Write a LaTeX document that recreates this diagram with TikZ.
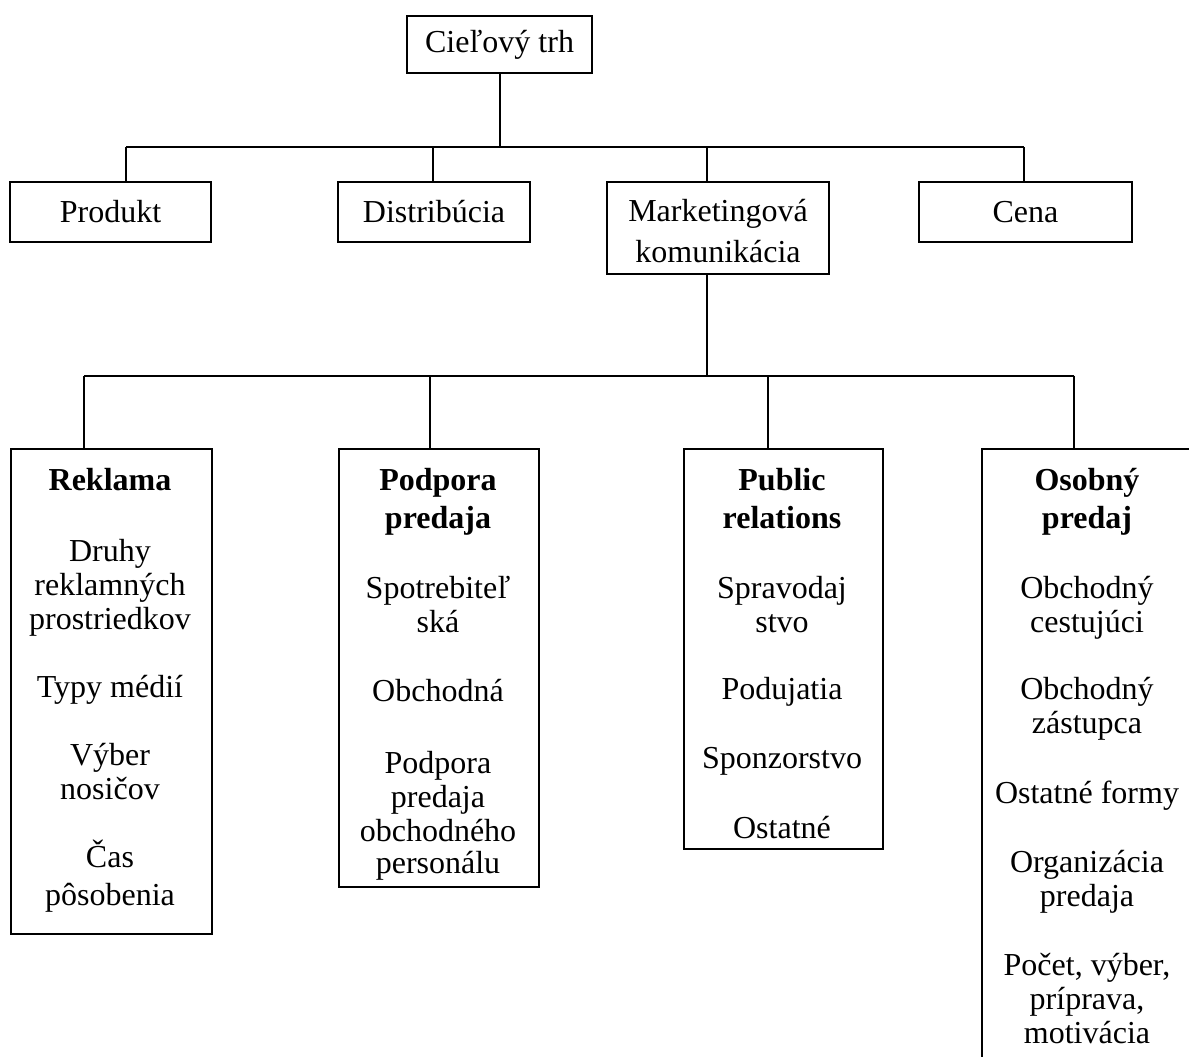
\documentclass[tikz,border=0pt]{standalone}
\usepackage{fontspec}
\setmainfont{Liberation Serif}
\begin{document}
\begin{tikzpicture}[x=0.5pt,y=-0.5pt]
    \tikzset{line/.style={line width=1pt}};
    \tikzset{box/.style={draw,line width=1pt,rectangle,inner sep=0pt,align=center,font=\fontsize{16}{17}\selectfont}};
    \tikzset{txt/.style={inner sep=0pt,align=center,anchor=north,font=\fontsize{16}{17}\selectfont}};

    \clip (0,0) rectangle (1189,1056);

    % top level
    \node[box,minimum width=92.5pt,minimum height=28.5pt] (trh) at (499.5,44.5) {Cieľový trh};

    \node[box,minimum width=100.5pt,minimum height=30pt] (produkt) at (110.5,212) {Produkt};
    \node[box,minimum width=96pt,minimum height=30pt] (distr) at (434,212) {Distribúcia};
    \node[box,minimum width=111pt,minimum height=46pt] (mk) at (718,228) {};
    \node[txt,anchor=center] (mkt) at (718,231.5) {Marketingová\\[3.5pt]komunikácia};
    \node[box,minimum width=106.5pt,minimum height=30pt] (cena) at (1025.5,212) {Cena};

    \coordinate (b1) at (126,147);
    \coordinate (b2) at (433,147);
    \coordinate (b3) at (707,147);
    \coordinate (b4) at (1024,147);

    \draw[line] (trh.south) -- (trh.south |- b1);
    \draw[line] (b1) -- (b4);
    \draw[line] (b1) -- (b1 |- produkt.north);
    \draw[line] (b2) -- (b2 |- distr.north);
    \draw[line] (b3) -- (b3 |- mk.north);
    \draw[line] (b4) -- (b4 |- cena.north);

    % lower level
    \node[box,anchor=north west,minimum width=100.5pt,minimum height=242.5pt] (rekl) at (10,448) {};
    \node[box,anchor=north west,minimum width=100pt,minimum height=219pt] (podp) at (338,448) {};
    \node[box,anchor=north west,minimum width=99.5pt,minimum height=200pt] (pr) at (683,448) {};
    \node[box,anchor=north west,minimum width=106pt,minimum height=350pt] (osob) at (981,448) {};

    \coordinate (c0) at (707,375.5);
    \coordinate (c1) at (84,375.5);
    \coordinate (c2) at (430,375.5);
    \coordinate (c3) at (768,375.5);
    \coordinate (c4) at (1074,375.5);

    \draw[line] (c0 |- mk.south) -- (c0);
    \draw[line] (c1) -- (c4);
    \draw[line] (c1) -- (c1 |- rekl.north);
    \draw[line] (c2) -- (c2 |- podp.north);
    \draw[line] (c3) -- (c3 |- pr.north);
    \draw[line] (c4) -- (c4 |- osob.north);

    \node[txt] (reklt) at (110,468) {\textbf{Reklama}\\[18.5pt]Druhy\\reklamných\\prostriedkov\\[17pt]Typy médií\\[17pt]Výber\\nosičov\\[17pt]Čas\\[2pt]pôsobenia};
    \node[txt] (podpt) at (438,468) {\textbf{Podpora}\\[2pt]\textbf{predaja}\\[18pt]Spotrebiteľ\\ská\\[17.5pt]Obchodná\\[19pt]Podpora\\predaja\\obchodného\\[-1pt]personálu};
    \node[txt] (prt) at (782,468) {\textbf{Public}\\[2pt]\textbf{relations}\\[18pt]Spravodaj\\stvo\\[16.5pt]Podujatia\\[17.5pt]Sponzorstvo\\[18pt]Ostatné};
    \node[txt] (osobt) at (1087,468) {\textbf{Osobný}\\[2pt]\textbf{predaj}\\[18pt]Obchodný\\cestujúci\\[16.5pt]Obchodný\\zástupca\\[18pt]Ostatné formy\\[17.5pt]Organizácia\\predaja\\[17.5pt]Počet, výber,\\príprava,\\motivácia};
\end{tikzpicture}
\end{document}
